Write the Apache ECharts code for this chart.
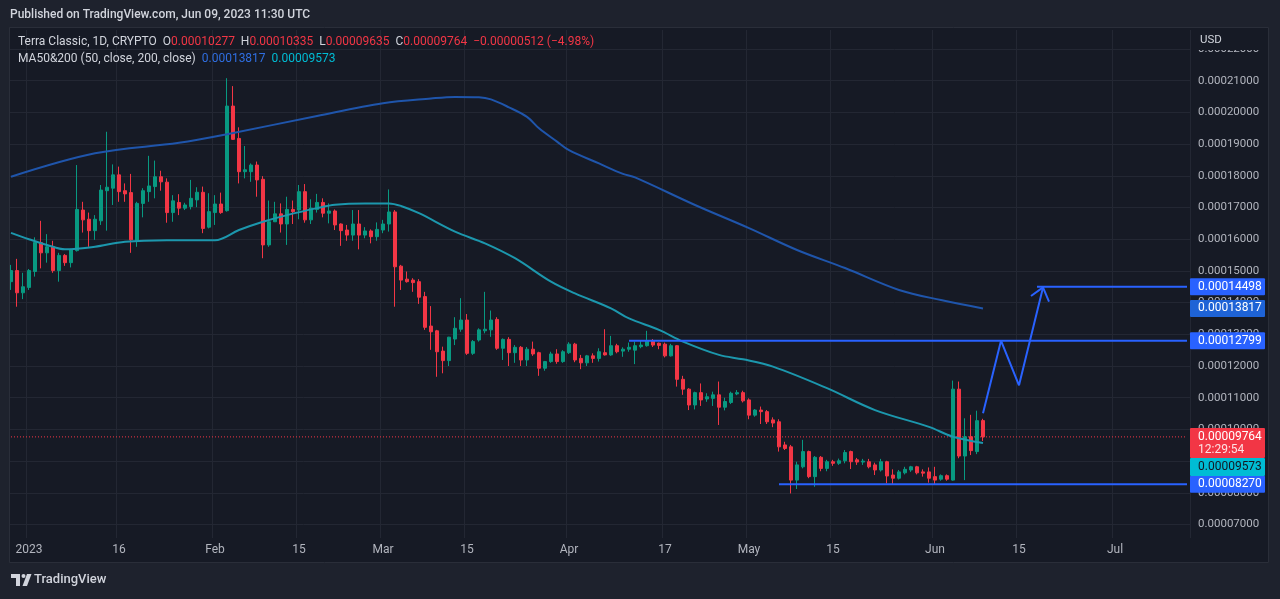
<!DOCTYPE html>
<html><head><meta charset="utf-8">
<script src="https://cdn.jsdelivr.net/npm/echarts@6/dist/echarts.min.js"></script>
<style>html,body{margin:0;padding:0;background:#1e222d;}#c{width:1280px;height:599px;}</style>
</head><body><div id="c"></div>
<script>
// ---------- DATA ----------
// daily candles from 2022-12-29 to 2023-06-09
const firstDate = '2022-12-29';
const open = [
14.66e-5,15.01e-5,14.31e-5,
14.48e-5,14.98e-5,15.89e-5,15.57e-5,15.76e-5,15.01e-5,15.49e-5,15.26e-5,15.64e-5,16.92e-5,16.63e-5,16.27e-5,16.58e-5,17.53e-5,17.61e-5,18.03e-5,17.53e-5,17.47e-5,15.95e-5,17.13e-5,17.50e-5,17.66e-5,17.97e-5,17.80e-5,16.84e-5,17.16e-5,16.98e-5,17.03e-5,17.24e-5,17.48e-5,16.38e-5,
16.84e-5,17.11e-5,16.90e-5,20.20e-5,19.18e-5,18.13e-5,18.13e-5,18.34e-5,17.89e-5,15.82e-5,16.55e-5,16.80e-5,16.48e-5,16.94e-5,16.92e-5,17.50e-5,16.61e-5,16.94e-5,17.16e-5,16.82e-5,16.89e-5,16.48e-5,16.29e-5,16.13e-5,16.48e-5,16.13e-5,16.26e-5,16.08e-5,
16.29e-5,16.48e-5,16.86e-5,15.15e-5,14.74e-5,14.71e-5,14.66e-5,14.19e-5,13.26e-5,13.11e-5,12.47e-5,12.17e-5,12.85e-5,13.16e-5,13.45e-5,12.40e-5,12.82e-5,13.11e-5,13.14e-5,13.47e-5,12.56e-5,12.84e-5,12.42e-5,12.59e-5,12.19e-5,12.53e-5,12.42e-5,11.93e-5,12.14e-5,12.38e-5,12.14e-5,
12.42e-5,12.69e-5,12.24e-5,12.10e-5,12.32e-5,12.24e-5,12.42e-5,12.35e-5,12.64e-5,12.47e-5,12.53e-5,12.50e-5,12.61e-5,12.64e-5,12.80e-5,12.72e-5,12.69e-5,12.32e-5,12.64e-5,11.58e-5,11.27e-5,10.77e-5,11.16e-5,10.96e-5,10.98e-5,11.09e-5,10.70e-5,10.85e-5,11.12e-5,11.16e-5,
10.93e-5,10.45e-5,10.61e-5,10.56e-5,10.30e-5,10.24e-5,9.51e-5,9.45e-5,8.40e-5,8.82e-5,9.30e-5,8.51e-5,9.12e-5,8.77e-5,8.98e-5,8.93e-5,9.01e-5,9.30e-5,9.04e-5,8.97e-5,8.98e-5,8.88e-5,8.72e-5,8.98e-5,8.56e-5,8.46e-5,8.63e-5,8.72e-5,8.82e-5,8.66e-5,8.66e-5,
8.51e-5,8.43e-5,8.54e-5,8.40e-5,11.27e-5,9.16e-5,9.77e-5,9.30e-5,10.277e-5];
const high = [
15.19e-5,15.38e-5,14.94e-5,
15.06e-5,16.06e-5,16.58e-5,16.16e-5,15.95e-5,15.57e-5,15.53e-5,15.70e-5,18.34e-5,17.18e-5,16.84e-5,16.76e-5,17.71e-5,19.39e-5,18.36e-5,18.29e-5,17.76e-5,18.06e-5,17.18e-5,17.61e-5,18.63e-5,18.48e-5,18.16e-5,17.92e-5,17.39e-5,17.42e-5,17.15e-5,17.87e-5,17.64e-5,17.66e-5,17.45e-5,
17.39e-5,17.47e-5,21.08e-5,20.83e-5,19.53e-5,18.94e-5,18.39e-5,18.45e-5,17.99e-5,17.22e-5,17.18e-5,17.13e-5,17.34e-5,17.22e-5,17.71e-5,17.74e-5,17.26e-5,17.43e-5,17.29e-5,17.13e-5,16.94e-5,16.50e-5,16.45e-5,16.92e-5,16.92e-5,16.38e-5,16.31e-5,16.53e-5,
16.61e-5,17.57e-5,16.92e-5,15.19e-5,14.98e-5,14.77e-5,14.74e-5,14.34e-5,13.89e-5,13.14e-5,12.61e-5,12.92e-5,13.54e-5,14.14e-5,13.64e-5,12.82e-5,13.19e-5,14.34e-5,13.75e-5,13.54e-5,12.87e-5,12.91e-5,12.66e-5,12.63e-5,12.60e-5,12.77e-5,12.45e-5,12.16e-5,12.45e-5,12.53e-5,12.50e-5,
12.75e-5,12.73e-5,12.35e-5,12.35e-5,12.40e-5,12.56e-5,13.16e-5,12.95e-5,12.70e-5,12.59e-5,12.74e-5,12.77e-5,12.80e-5,13.11e-5,12.85e-5,12.74e-5,12.74e-5,12.70e-5,12.66e-5,11.69e-5,11.30e-5,11.19e-5,11.45e-5,11.14e-5,11.19e-5,11.51e-5,11.00e-5,11.19e-5,11.24e-5,11.22e-5,
10.98e-5,10.64e-5,10.72e-5,10.61e-5,10.38e-5,10.32e-5,9.61e-5,9.51e-5,8.98e-5,9.67e-5,9.33e-5,9.16e-5,9.16e-5,9.04e-5,9.04e-5,9.08e-5,9.35e-5,9.33e-5,9.10e-5,9.07e-5,9.07e-5,8.95e-5,9.07e-5,9.01e-5,8.74e-5,8.72e-5,8.82e-5,8.85e-5,8.85e-5,8.74e-5,8.80e-5,
8.82e-5,8.58e-5,8.58e-5,11.54e-5,11.51e-5,10.35e-5,10.46e-5,10.59e-5,10.335e-5];
const low = [
14.40e-5,13.87e-5,14.11e-5,
14.40e-5,14.82e-5,15.08e-5,15.26e-5,14.94e-5,14.66e-5,15.16e-5,15.11e-5,15.61e-5,16.21e-5,15.76e-5,15.98e-5,16.45e-5,16.27e-5,17.08e-5,17.18e-5,17.18e-5,15.57e-5,15.76e-5,16.69e-5,17.18e-5,17.29e-5,17.53e-5,16.52e-5,16.55e-5,16.76e-5,16.92e-5,16.94e-5,17.01e-5,16.19e-5,16.34e-5,
16.45e-5,16.80e-5,16.87e-5,19.13e-5,17.76e-5,17.92e-5,17.81e-5,17.34e-5,15.40e-5,15.76e-5,16.55e-5,16.21e-5,15.82e-5,16.48e-5,16.63e-5,16.52e-5,16.48e-5,16.84e-5,16.69e-5,16.50e-5,16.29e-5,15.79e-5,15.95e-5,15.95e-5,15.68e-5,16.03e-5,15.87e-5,15.95e-5,
16.19e-5,16.24e-5,13.87e-5,14.40e-5,14.63e-5,14.34e-5,13.96e-5,13.14e-5,12.51e-5,11.66e-5,11.77e-5,12.00e-5,12.66e-5,13.08e-5,12.35e-5,12.35e-5,12.77e-5,13.03e-5,12.92e-5,12.51e-5,12.19e-5,12.00e-5,12.10e-5,12.00e-5,12.00e-5,12.32e-5,11.69e-5,11.85e-5,12.10e-5,12.07e-5,12.10e-5,
12.38e-5,12.12e-5,11.90e-5,12.00e-5,12.10e-5,12.14e-5,12.33e-5,12.32e-5,12.40e-5,12.29e-5,12.45e-5,12.06e-5,12.56e-5,12.61e-5,12.60e-5,12.53e-5,12.27e-5,12.30e-5,11.35e-5,11.09e-5,10.61e-5,10.63e-5,10.74e-5,10.87e-5,10.74e-5,10.14e-5,10.60e-5,10.80e-5,11.08e-5,10.85e-5,
10.32e-5,10.40e-5,10.17e-5,10.17e-5,10.07e-5,9.30e-5,9.35e-5,7.98e-5,8.12e-5,8.77e-5,8.46e-5,8.19e-5,8.68e-5,8.68e-5,8.85e-5,8.88e-5,8.93e-5,8.75e-5,8.88e-5,8.88e-5,8.77e-5,8.56e-5,8.67e-5,8.30e-5,8.28e-5,8.42e-5,8.58e-5,8.66e-5,8.58e-5,8.51e-5,8.32e-5,
8.28e-5,8.38e-5,8.38e-5,8.38e-5,9.09e-5,8.40e-5,9.19e-5,9.22e-5,9.635e-5];
const close = [
15.01e-5,14.31e-5,14.50e-5,
15.01e-5,15.90e-5,15.57e-5,15.76e-5,15.01e-5,15.49e-5,15.26e-5,15.66e-5,16.94e-5,16.61e-5,16.27e-5,16.63e-5,17.55e-5,17.64e-5,18.03e-5,17.50e-5,17.43e-5,15.98e-5,17.13e-5,17.53e-5,17.68e-5,17.97e-5,17.81e-5,16.84e-5,17.21e-5,16.98e-5,17.08e-5,17.29e-5,17.48e-5,16.34e-5,16.87e-5,
17.11e-5,16.84e-5,20.20e-5,19.15e-5,18.13e-5,18.19e-5,18.34e-5,17.87e-5,15.82e-5,16.55e-5,16.80e-5,16.48e-5,16.94e-5,16.87e-5,17.50e-5,16.61e-5,16.98e-5,17.16e-5,16.82e-5,16.89e-5,16.45e-5,16.27e-5,16.13e-5,16.48e-5,16.13e-5,16.26e-5,16.08e-5,16.31e-5,
16.48e-5,16.86e-5,15.13e-5,14.71e-5,14.66e-5,14.63e-5,14.17e-5,13.22e-5,13.08e-5,12.45e-5,12.17e-5,12.91e-5,13.19e-5,13.45e-5,12.40e-5,12.77e-5,13.14e-5,13.16e-5,13.45e-5,12.56e-5,12.84e-5,12.42e-5,12.59e-5,12.19e-5,12.53e-5,12.38e-5,11.93e-5,12.14e-5,12.38e-5,12.14e-5,12.45e-5,
12.69e-5,12.19e-5,12.10e-5,12.32e-5,12.24e-5,12.45e-5,12.35e-5,12.64e-5,12.45e-5,12.53e-5,12.59e-5,12.64e-5,12.66e-5,12.80e-5,12.66e-5,12.65e-5,12.32e-5,12.64e-5,11.58e-5,11.27e-5,10.77e-5,11.16e-5,10.93e-5,11.03e-5,11.09e-5,10.70e-5,10.88e-5,11.14e-5,11.16e-5,10.90e-5,
10.45e-5,10.61e-5,10.56e-5,10.24e-5,10.20e-5,9.45e-5,9.40e-5,8.40e-5,8.88e-5,9.30e-5,8.51e-5,9.12e-5,8.77e-5,8.98e-5,8.93e-5,9.01e-5,9.27e-5,8.98e-5,8.97e-5,9.00e-5,8.82e-5,8.72e-5,8.98e-5,8.53e-5,8.46e-5,8.66e-5,8.74e-5,8.82e-5,8.63e-5,8.62e-5,8.46e-5,
8.40e-5,8.54e-5,8.43e-5,11.27e-5,9.16e-5,9.77e-5,9.33e-5,10.276e-5,9.764e-5];

// moving averages
const ma200Dates = ['2022-12-29','2023-01-12','2023-01-26','2023-02-03','2023-02-18','2023-03-01','2023-03-09','2023-03-13','2023-03-17','2023-03-19','2023-03-22','2023-03-25','2023-03-27','2023-03-30','2023-04-01','2023-04-06','2023-04-10','2023-04-12','2023-04-22','2023-05-01','2023-05-09','2023-05-17','2023-05-26','2023-06-02','2023-06-09'];
const ma200Values = [17.97e-5,18.71e-5,19.04e-5,19.31e-5,19.89e-5,20.29e-5,20.44e-5,20.49e-5,20.48e-5,20.41e-5,20.16e-5,19.86e-5,19.50e-5,19.08e-5,18.81e-5,18.39e-5,18.06e-5,17.95e-5,17.08e-5,16.35e-5,15.66e-5,15.09e-5,14.40e-5,14.08e-5,13.817e-5];
const ma50Dates = ['2022-12-29','2023-01-01','2023-01-04','2023-01-07','2023-01-09','2023-01-12','2023-01-17','2023-01-24','2023-02-01','2023-02-05','2023-02-09','2023-02-13','2023-02-18','2023-02-21','2023-02-26','2023-03-02','2023-03-04','2023-03-07','2023-03-13','2023-03-18','2023-03-23','2023-03-29','2023-04-02','2023-04-08','2023-04-11','2023-04-16','2023-04-20','2023-04-26','2023-04-30','2023-05-05','2023-05-14','2023-05-22','2023-05-31','2023-06-04','2023-06-09'];
const ma50Values = [16.20e-5,16.00e-5,15.82e-5,15.68e-5,15.70e-5,15.76e-5,15.92e-5,15.97e-5,15.97e-5,16.29e-5,16.55e-5,16.76e-5,16.98e-5,17.09e-5,17.13e-5,17.13e-5,17.05e-5,16.82e-5,16.24e-5,15.87e-5,15.40e-5,14.66e-5,14.29e-5,13.82e-5,13.50e-5,13.14e-5,12.77e-5,12.35e-5,12.21e-5,11.98e-5,11.30e-5,10.61e-5,10.08e-5,9.77e-5,9.573e-5];

// drawings (horizontal rays and projected path)
const rayStarts = ['2023-04-11','2023-05-06','2023-06-18'];
const rayValues = [12.799e-5, 8.27e-5, 14.498e-5];
const pathDates = ['2023-06-09','2023-06-12','2023-06-15','2023-06-19'];
const pathValues = [10.51e-5, 12.80e-5, 11.39e-5, 14.48e-5];
const arrowDates = ['2023-06-17','2023-06-19','2023-06-20'];
const arrowValues = [14.21e-5, 14.48e-5, 14.03e-5];

// time axis labels
const tickDates = ['2023-01-01','2023-01-16','2023-02-01','2023-02-15','2023-03-01','2023-03-15','2023-04-01','2023-04-17','2023-05-01','2023-05-15','2023-06-01','2023-06-15','2023-07-01'];
const tickLabels = ['2023','16','Feb','15','Mar','15','Apr','17','May','15','Jun','15','Jul'];
const countdown = '12:29:54';

// ---------- LAYOUT / STYLE ----------
const W = 1280, H = 599;
const GRID = {left: 8, right: 90, top: 30, bottom: 61};
const NCAT = 197;
const UP = '#089981', DOWN = '#f23645';
const TXT = '#b2b5be', GRIDC = '#232733';
const FONT = 'Roboto, "Liberation Sans", sans-serif';
const DRAW = '#2962ff';

const categories = [];
{
  const p = firstDate.split('-').map(Number);
  for (let i = 0; i < NCAT; i++) {
    const d = new Date(Date.UTC(p[0], p[1]-1, p[2] + i));
    categories.push(d.toISOString().slice(0,10));
  }
}
const lastCat = categories[categories.length-1];
const tickMap = {};
tickDates.forEach((d,i)=>tickMap[d]=tickLabels[i]);

const candleData = open.map((o,i)=>[o, close[i], low[i], high[i]]);
const fmt = v => v.toFixed(8);
const lastClose = close[close.length-1];

const lineSeries = (data, color, width, z, type) => ({
  type:'line', data, symbol:'none', silent:true, z: z||4,
  lineStyle:{color, width: width||2, type: type||'solid'}, animation:false
});

const series = [
  // current price line (dotted, across the whole pane)
  lineSeries([[categories[0], lastClose],[lastCat, lastClose]], DOWN, 1, 1, [1,2]),
  {
    type:'candlestick', data: candleData, barWidth: 3, z: 2,
    itemStyle:{color: UP, color0: DOWN, borderColor: UP, borderColor0: DOWN, borderWidth: 1}
  },
  Object.assign(lineSeries(ma200Dates.map((d,i)=>[d, ma200Values[i]]), '#1f55ab', 2, 3), {smooth:0.35}),
  Object.assign(lineSeries(ma50Dates.map((d,i)=>[d, ma50Values[i]]), '#1c97ad', 2, 3), {smooth:0.35}),
];
rayStarts.forEach((d,i)=>series.push(lineSeries([[d, rayValues[i]],[lastCat, rayValues[i]]], DRAW, 2, 5)));
series.push(lineSeries(pathDates.map((d,i)=>[d, pathValues[i]]), DRAW, 2, 5));
series.push(lineSeries(arrowDates.map((d,i)=>[d, arrowValues[i]]), DRAW, 2, 5));

const option = {
  backgroundColor: '#161a25',
  animation: false,
  grid: {left: GRID.left, right: GRID.right, top: GRID.top, bottom: GRID.bottom, containLabel:false},
  xAxis: {
    type:'category', data: categories, boundaryGap: true,
    axisLine:{show:false}, axisTick:{show:false},
    axisLabel:{
      interval:(idx, val)=> tickMap[val] !== undefined,
      formatter: v => tickMap[v] || '',
      color: TXT, fontSize: 12, fontFamily: FONT, margin: 6
    },
    splitLine:{show:true, interval:(idx,val)=> tickMap[val] !== undefined, lineStyle:{color: GRIDC, width:1}}
  },
  yAxis: {
    type:'value', position:'right', scale:true,
    min: 6.574e-5, max: 22.6e-5, minInterval: 1e-5, maxInterval: 1e-5,
    axisLine:{show:false}, axisTick:{show:false},
    axisLabel:{formatter: fmt, color: TXT, fontSize: 11.5, fontFamily: FONT, margin: 8, showMinLabel:false, showMaxLabel:false},
    splitLine:{show:true, showMinLine:false, showMaxLine:false, lineStyle:{color: GRIDC, width:1}}
  },
  series
};

const chart = echarts.init(document.getElementById('c'), null, {renderer:'canvas', width:W, height:H});
chart.setOption(option);

// ---------- overlay: frame, texts, price tags ----------
const OUT = '#1e222d';
const axisX = W - GRID.right;
const yPix = v => chart.convertToPixel({yAxisIndex:0}, v);
const g = [];
// outer frame bands
g.push({type:'rect', shape:{x:0,y:0,width:W,height:27}, style:{fill:OUT}, z:100, silent:true});
g.push({type:'rect', shape:{x:0,y:563,width:W,height:H-563}, style:{fill:OUT}, z:100, silent:true});
g.push({type:'rect', shape:{x:0,y:0,width:10,height:H}, style:{fill:OUT}, z:100, silent:true});
g.push({type:'rect', shape:{x:1269,y:0,width:W-1269,height:H}, style:{fill:OUT}, z:100, silent:true});
g.push({type:'rect', shape:{x:9.5,y:27.5,width:1259,height:535}, style:{fill:null, stroke:'#2a2e39', lineWidth:1}, z:101, silent:true});
// title
g.push({type:'text', x:10, y:15, style:{text:'Published on TradingView.com, Jun 09, 2023 11:30 UTC', fill:'#d1d4dc', font:'500 12px '+FONT, textVerticalAlign:'middle'}, z:102});
// legend lines
const last = open.length-1;
const chg = close[last] - close[last-1];
const chgTxt = (chg<0?'\u2212':'+') + Math.abs(chg).toFixed(8) + ' (' + (chg<0?'\u2212':'+') + Math.abs(chg/close[last-1]*100).toFixed(2) + '%)';
g.push({type:'text', x:18, y:42, z:102, style:{
  text:'{t|Terra Classic, 1D, CRYPTO}  {k|O}{r|'+fmt(open[last])+'}  {k|H}{r|'+fmt(high[last])+'}  {k|L}{r|'+fmt(low[last])+'}  {k|C}{r|'+fmt(close[last])+'}  {r|'+chgTxt+'}',
  textVerticalAlign:'middle', font:'12px '+FONT,
  rich:{t:{fill:'#d1d4dc', font:'12px '+FONT}, k:{fill:'#d1d4dc', font:'12px '+FONT}, r:{fill:'#f23645', font:'12px '+FONT}}
}});
g.push({type:'text', x:18, y:59, z:102, style:{
  text:'{t|MA50&200 (50, close, 200, close)}  {b|'+fmt(ma200Values[ma200Values.length-1])+'}  {c|'+fmt(ma50Values[ma50Values.length-1])+'}',
  textVerticalAlign:'middle', font:'12px '+FONT,
  rich:{t:{fill:'#d1d4dc', font:'12px '+FONT}, b:{fill:'#2f6ee0', font:'12px '+FONT}, c:{fill:'#00bcd4', font:'12px '+FONT}}
}});
// USD header
g.push({type:'rect', shape:{x:axisX+1,y:28,width:1268-axisX-1,height:22}, style:{fill:'#161a25'}, z:102});
g.push({type:'text', x:axisX+10, y:40, style:{text:'USD', fill:'#d1d4dc', font:'11.5px '+FONT, textVerticalAlign:'middle'}, z:103});
// footer logo
g.push({type:'polygon', shape:{points:[[11,574],[20,574],[20,586],[16,586],[16,578],[11,578]]}, style:{fill:'#d1d4dc'}, z:102});
g.push({type:'circle', shape:{cx:23.5,cy:576,r:2}, style:{fill:'#d1d4dc'}, z:102});
g.push({type:'polygon', shape:{points:[[27,574],[31.5,574],[27,586],[22.5,586]]}, style:{fill:'#d1d4dc'}, z:102});
g.push({type:'text', x:34, y:580, style:{text:'TradingView', fill:'#d1d4dc', font:'500 13px '+FONT, textVerticalAlign:'middle'}, z:102});

// price tags on the scale
const TAGW = 75;
function tag(v, bg, fg, yc, h) {
  h = h || 17;
  g.push({type:'rect', shape:{x:axisX, y:yc-h/2, width:TAGW, height:h, r:1}, style:{fill:bg}, z:110});
  g.push({type:'text', x:axisX+8, y:yc, style:{text:fmt(v), fill:fg, font:'12px '+FONT, textVerticalAlign:'middle'}, z:111});
}
tag(rayValues[2], DRAW, '#ffffff', yPix(rayValues[2]));
tag(ma200Values[ma200Values.length-1], '#1e63d6', '#ffffff', yPix(ma200Values[ma200Values.length-1]));
tag(rayValues[0], DRAW, '#ffffff', yPix(rayValues[0]));
tag(rayValues[1], DRAW, '#ffffff', yPix(rayValues[1]));
// current price (two lines)
const yc = yPix(lastClose);
g.push({type:'rect', shape:{x:axisX, y:yc-9, width:TAGW, height:30, r:1}, style:{fill:'#f23645'}, z:112});
g.push({type:'text', x:axisX+8, y:yc, style:{text:fmt(lastClose), fill:'#ffffff', font:'12px '+FONT, textVerticalAlign:'middle'}, z:113});
g.push({type:'text', x:axisX+8, y:yc+13, style:{text:countdown, fill:'rgba(255,255,255,0.85)', font:'12px '+FONT, textVerticalAlign:'middle'}, z:113});
// MA50 tag pushed below the price tag
const y50 = yc + 21;
g.push({type:'rect', shape:{x:axisX, y:y50, width:TAGW, height:18, r:1}, style:{fill:'#00bcd4'}, z:112});
g.push({type:'text', x:axisX+8, y:y50+9, style:{text:fmt(ma50Values[ma50Values.length-1]), fill:'#131722', font:'12px '+FONT, textVerticalAlign:'middle'}, z:113});

chart.setOption({graphic: g});
</script></body></html>
